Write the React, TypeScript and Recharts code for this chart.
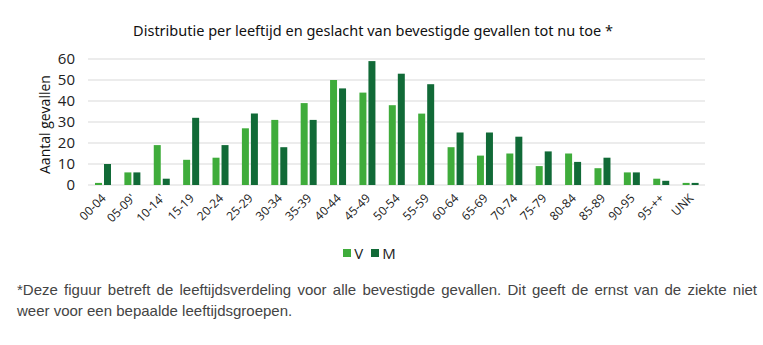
import { BarChart, Bar, XAxis, YAxis, CartesianGrid, Legend } from "recharts";

const ageGroups = [
  "00-04", "05-09'", "10-14'", "15-19", "20-24", "25-29", "30-34", "35-39", "40-44", "45-49",
  "50-54", "55-59", "60-64", "65-69", "70-74", "75-79", "80-84", "85-89", "90-95", "95-++", "UNK",
];
const women = [1, 6, 19, 12, 13, 27, 31, 39, 50, 44, 38, 34, 18, 14, 15, 9, 15, 8, 6, 3, 1];
const men = [10, 6, 3, 32, 19, 34, 18, 31, 46, 59, 53, 48, 25, 25, 23, 16, 11, 13, 6, 2, 1];
const yTicks = [0, 10, 20, 30, 40, 50, 60];

const V_COLOR = "#3fac3b";
const M_COLOR = "#116a37";

const data = ageGroups.map((group, i) => ({ group, V: women[i], M: men[i] }));

const AngledTick = ({ x, y, payload }: any) => (
  <text
    x={x + 4}
    y={y + 6}
    textAnchor="end"
    fontSize={12}
    fill="#222"
    fontFamily="'Open Sans', sans-serif"
    transform={`rotate(-45, ${x + 4}, ${y + 6})`}
  >
    {payload.value}
  </text>
);

const LegendContent = () => (
  <div style={{ display: "flex", justifyContent: "center", gap: 8, fontFamily: "'Open Sans', sans-serif", fontSize: 15, color: "#222", marginLeft: 34 }}>
    {[{ name: "V", color: V_COLOR }, { name: "M", color: M_COLOR }].map((item) => (
      <span key={item.name} style={{ display: "flex", alignItems: "center" }}>
        <span style={{ width: 8, height: 8, background: item.color, marginRight: 3, display: "inline-block" }} />
        {item.name}
      </span>
    ))}
  </div>
);

const App = () => {
  return (
    <div style={{ position: "absolute", top: 0, left: 0, width: 763, height: 345, background: "#fff", fontFamily: "'Open Sans', sans-serif" }}>
      <div style={{ position: "absolute", top: 20, left: 0, width: 746, textAlign: "center", fontSize: 14.5, color: "#111", fontFamily: "'Noto Sans', sans-serif" }}>
        Distributie per leeftijd en geslacht van bevestigde gevallen tot nu toe *
      </div>
      <BarChart
        width={763}
        height={270}
        data={data}
        margin={{ top: 59, right: 58, left: 0, bottom: 0 }}
        barSize={7}
        barGap={2}
      >
        <CartesianGrid vertical={false} stroke="#d9d9d9" />
        <XAxis
          dataKey="group"
          interval={0}
          tickLine={false}
          axisLine={false}
          height={58}
          tick={<AngledTick />}
        />
        <YAxis
          width={88}
          domain={[0, 60]}
          ticks={yTicks}
          interval={0}
          tickLine={false}
          axisLine={false}
          tick={{ fontSize: 15, fill: "#222" }}
          tickMargin={7}
          label={{ value: "Aantal gevallen", angle: -90, position: "insideLeft", offset: 45, dy: 52, style: { fontSize: 14, fill: "#111" } }}
        />
        <Legend verticalAlign="bottom" height={27} content={<LegendContent />} />
        <Bar dataKey="V" fill={V_COLOR} isAnimationActive={false} />
        <Bar dataKey="M" fill={M_COLOR} isAnimationActive={false} />
      </BarChart>
      <div style={{ position: "absolute", top: 279, left: 17, width: 740, fontFamily: "'Liberation Sans', Arial, sans-serif", fontSize: 15, color: "#444", lineHeight: "21px" }}>
        <div style={{ textAlign: "justify", textAlignLast: "justify" }}>
          *Deze figuur betreft de leeftijdsverdeling voor alle bevestigde gevallen. Dit geeft de ernst van de ziekte niet
        </div>
        <div>weer voor een bepaalde leeftijdsgroepen.</div>
      </div>
    </div>
  );
};

export default App;
